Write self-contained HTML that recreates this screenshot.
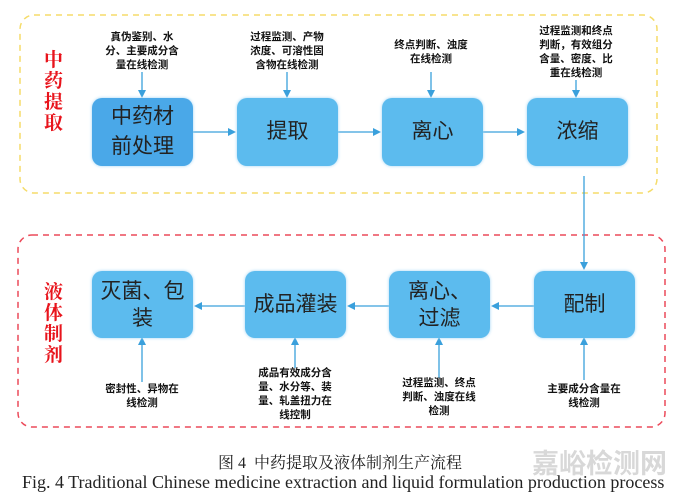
<!DOCTYPE html><html><head><meta charset="utf-8"><style>
body{margin:0;width:680px;height:499px;background:#fff;position:relative;overflow:hidden;font-family:"Liberation Sans","Noto Sans CJK SC",sans-serif}
.b{position:absolute;background:#5cbbee;border-radius:10px;display:flex;align-items:center;justify-content:center;text-align:center;font-size:21px;line-height:30px;color:#222;box-shadow:0 0 3px #9fd4f4}
.l{position:absolute;font-size:10.5px;font-weight:bold;line-height:14px;text-align:center;color:#111;width:100px}
.r{position:absolute;color:#e8141c;font-family:"Liberation Serif","Noto Serif CJK SC",serif;font-size:19px;line-height:21px;width:22px;font-weight:bold}
</style></head><body>
<svg width="680" height="499" style="position:absolute;left:0;top:0">
<defs><marker id="a" markerWidth="8" markerHeight="8" refX="6" refY="4" orient="auto" markerUnits="userSpaceOnUse"><path d="M0,0 L8,4 L0,8 z" fill="#3aa0dc"/></marker></defs>
<rect x="20" y="15" width="637" height="178" rx="14" fill="none" stroke="#f5dc6a" stroke-width="1.5" stroke-dasharray="6,5"/>
<rect x="18" y="235" width="647" height="192" rx="14" fill="none" stroke="#ec4a5a" stroke-width="1.5" stroke-dasharray="6,5"/>
<g stroke="#3aa0dc" stroke-width="1.3" fill="none" marker-end="url(#a)">
<line x1="193" y1="132" x2="234" y2="132"/><line x1="338" y1="132" x2="379" y2="132"/><line x1="483" y1="132" x2="523" y2="132"/>
<line x1="142" y1="72" x2="142" y2="96"/><line x1="287" y1="72" x2="287" y2="96"/><line x1="431" y1="72" x2="431" y2="96"/><line x1="576" y1="80" x2="576" y2="96"/>
<line x1="584" y1="176" x2="584" y2="268"/>
<line x1="534" y1="306" x2="493" y2="306"/><line x1="389" y1="306" x2="349" y2="306"/><line x1="245" y1="306" x2="196" y2="306"/>
<line x1="142" y1="382" x2="142" y2="339"/><line x1="295" y1="368" x2="295" y2="339"/><line x1="439" y1="378" x2="439" y2="339"/><line x1="584" y1="380" x2="584" y2="339"/>
</g></svg>
<div class="r" style="left:44px;top:50px">中<br>药<br>提<br>取</div>
<div class="r" style="left:44px;top:282px">液<br>体<br>制<br>剂</div>
<div class="b" style="left:92px;top:98px;width:101px;height:68px;background:#4aa8e8">中药材<br>前处理</div>
<div class="b" style="left:237px;top:98px;width:101px;height:68px">提取</div>
<div class="b" style="left:382px;top:98px;width:101px;height:68px">离心</div>
<div class="b" style="left:527px;top:98px;width:101px;height:68px">浓缩</div>
<div class="l" style="left:92px;top:30px">真伪鉴别、水<br>分、主要成分含<br>量在线检测</div>
<div class="l" style="left:237px;top:30px">过程监测、产物<br>浓度、可溶性固<br>含物在线检测</div>
<div class="l" style="left:381px;top:38px">终点判断、浊度<br>在线检测</div>
<div class="l" style="left:526px;top:24px">过程监测和终点<br>判断，有效组分<br>含量、密度、比<br>重在线检测</div>
<div class="b" style="left:92px;top:271px;width:101px;height:67px;line-height:27px">灭菌、包<br>装</div>
<div class="b" style="left:245px;top:271px;width:101px;height:67px">成品灌装</div>
<div class="b" style="left:389px;top:271px;width:101px;height:67px;line-height:27px">离心、<br>过滤</div>
<div class="b" style="left:534px;top:271px;width:101px;height:67px">配制</div>
<div class="l" style="left:92px;top:382px">密封性、异物在<br>线检测</div>
<div class="l" style="left:245px;top:366px">成品有效成分含<br>量、水分等、装<br>量、轧盖扭力在<br>线控制</div>
<div class="l" style="left:389px;top:376px">过程监测、终点<br>判断、浊度在线<br>检测</div>
<div class="l" style="left:534px;top:382px">主要成分含量在<br>线检测</div>
<div style="position:absolute;left:532px;top:442px;font-size:27px;color:#d8d8d8;font-weight:bold;white-space:nowrap">嘉峪检测网</div>
<div style="position:absolute;left:0;width:680px;top:450px;text-align:center;font-family:'Liberation Serif','Noto Serif CJK SC',serif;font-size:16px;color:#222">图 4&nbsp; 中药提取及液体制剂生产流程</div>
<div style="position:absolute;left:22px;top:472px;font-family:'Liberation Serif',serif;font-size:18px;color:#222;white-space:nowrap">Fig. 4 Traditional Chinese medicine extraction and liquid formulation production process</div>
</body></html>
